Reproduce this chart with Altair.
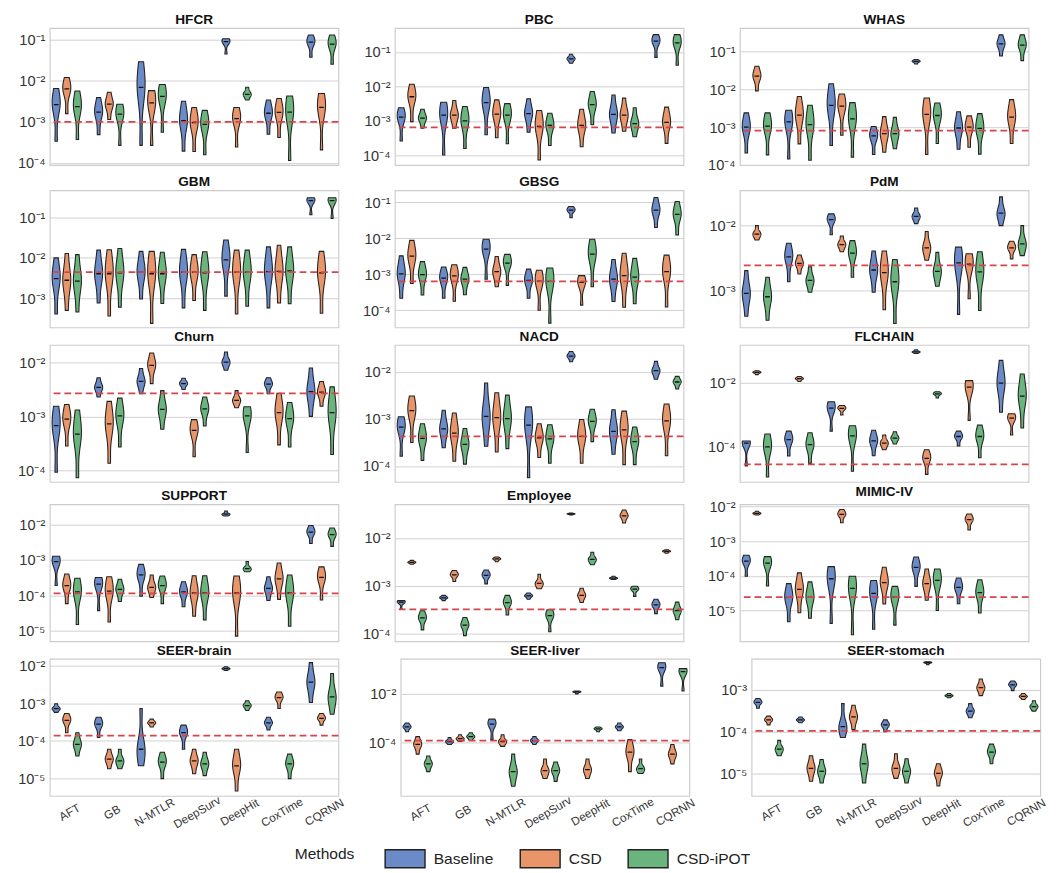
import altair as alt
import pandas as pd

FONT = "Liberation Sans"
METHODS = ["AFT", "GB", "N-MTLR", "DeepSurv", "DeepHit", "CoxTime", "CQRNN"]
VARIANTS = ["Baseline", "CSD", "CSD-iPOT"]
COLORS = ["#6a8bc8", "#e8956a", "#6ab47e"]

# log10 of the metric: (min, median, max) per violin, order = method x (Baseline, CSD, CSD-iPOT)
HFCR = [
    [-3.47, -2.58, -2.19], [-2.80, -2.20, -1.92], [-3.43, -2.63, -2.25],
    [-3.31, -2.76, -2.41], [-2.94, -2.57, -2.28], [-3.57, -2.81, -2.57],
    [-3.57, -2.16, -1.54], [-3.57, -2.54, -2.24], [-3.25, -2.38, -2.09],
    [-3.71, -2.97, -2.50], [-3.72, -3.02, -2.65], [-3.80, -3.06, -2.72],
    [-1.35, -1.05, -0.98], [-3.61, -2.92, -2.65], [-2.47, -2.33, -2.16],
    [-3.30, -2.79, -2.47], [-3.38, -2.77, -2.43], [-3.94, -2.76, -2.37],
    [-1.43, -1.06, -0.89], [-3.68, -2.65, -2.31], [-1.60, -1.11, -0.89],
]
PBC = [
    [-3.58, -2.89, -2.62], [-3.02, -2.30, -1.94], [-3.21, -2.92, -2.66],
    [-3.99, -2.83, -2.46], [-3.21, -2.83, -2.41], [-3.80, -3.00, -2.58],
    [-3.40, -2.47, -2.03], [-3.49, -2.80, -2.39], [-3.66, -2.83, -2.50],
    [-3.33, -2.79, -2.36], [-4.13, -3.16, -2.70], [-3.71, -3.13, -2.78],
    [-1.33, -1.20, -1.07], [-3.75, -3.13, -2.66], [-3.11, -2.53, -2.15],
    [-3.35, -2.81, -2.25], [-3.30, -2.83, -2.34], [-3.46, -3.08, -2.62],
    [-1.16, -0.69, -0.50], [-3.65, -3.04, -2.60], [-1.39, -0.74, -0.50],
]
WHAS = [
    [-3.68, -3.00, -2.62], [-2.04, -1.65, -1.39], [-3.73, -2.97, -2.62],
    [-3.84, -2.86, -2.55], [-3.44, -2.68, -2.19], [-3.87, -2.93, -2.42],
    [-3.48, -2.42, -1.85], [-3.21, -2.44, -2.12], [-3.79, -2.78, -2.35],
    [-3.72, -3.23, -2.98], [-3.66, -3.17, -2.72], [-3.57, -3.17, -2.74],
    [-1.33, -1.26, -1.21], [-3.72, -2.66, -2.23], [-3.43, -2.69, -2.36],
    [-3.58, -3.02, -2.59], [-3.53, -3.00, -2.70], [-3.71, -3.03, -2.64],
    [-1.12, -0.80, -0.56], [-3.43, -2.73, -2.27], [-1.24, -0.83, -0.56],
]
GBM = [
    [-3.38, -2.51, -2.00], [-3.29, -2.55, -1.89], [-3.33, -2.57, -1.92],
    [-3.11, -2.39, -1.81], [-3.43, -2.39, -1.80], [-3.21, -2.37, -1.77],
    [-3.01, -2.35, -1.84], [-3.61, -2.39, -1.84], [-3.12, -2.39, -1.86],
    [-3.23, -2.35, -1.79], [-3.05, -2.35, -1.92], [-3.29, -2.37, -1.85],
    [-2.94, -2.05, -1.56], [-3.38, -2.35, -1.81], [-3.19, -2.35, -1.81],
    [-3.23, -2.34, -1.73], [-3.11, -2.33, -1.69], [-3.13, -2.32, -1.73],
    [-0.94, -0.59, -0.52], [-3.36, -2.37, -1.84], [-1.03, -0.59, -0.52],
]
GBSG = [
    [-3.67, -2.99, -2.49], [-3.26, -2.50, -2.06], [-3.58, -3.01, -2.65],
    [-3.67, -3.11, -2.80], [-3.75, -3.05, -2.74], [-3.57, -3.14, -2.81],
    [-3.14, -2.30, -2.03], [-3.35, -2.93, -2.51], [-3.31, -2.69, -2.45],
    [-3.67, -3.17, -2.86], [-4.00, -3.19, -2.89], [-4.36, -3.20, -2.83],
    [-1.43, -1.22, -1.12], [-3.86, -3.23, -3.04], [-3.35, -2.44, -2.03],
    [-3.76, -3.14, -2.59], [-3.92, -3.04, -2.42], [-3.82, -3.08, -2.56],
    [-1.70, -1.22, -0.87], [-3.91, -2.93, -2.47], [-1.91, -1.34, -0.98],
]
PDM = [
    [-3.39, -3.04, -2.69], [-2.22, -2.13, -2.00], [-3.45, -3.09, -2.79],
    [-2.86, -2.48, -2.27], [-2.74, -2.58, -2.45], [-3.02, -2.84, -2.63],
    [-2.14, -1.91, -1.82], [-2.40, -2.29, -2.16], [-2.79, -2.42, -2.23],
    [-3.02, -2.68, -2.39], [-3.29, -2.72, -2.39], [-3.50, -2.86, -2.52],
    [-1.97, -1.86, -1.73], [-2.53, -2.34, -2.09], [-2.93, -2.70, -2.41],
    [-3.36, -2.57, -2.33], [-3.12, -2.59, -2.43], [-3.30, -2.71, -2.40],
    [-2.00, -1.81, -1.56], [-2.51, -2.34, -2.24], [-2.46, -2.28, -2.00],
]
CHURN = [
    [-4.04, -3.17, -2.81], [-3.55, -3.05, -2.78], [-4.14, -3.33, -2.88],
    [-2.64, -2.46, -2.28], [-3.87, -3.14, -2.72], [-3.57, -2.99, -2.66],
    [-2.58, -2.35, -2.11], [-2.39, -2.05, -1.82], [-3.24, -2.87, -2.52],
    [-2.50, -2.39, -2.29], [-3.75, -3.26, -3.06], [-3.18, -2.86, -2.64],
    [-2.14, -1.99, -1.80], [-2.84, -2.70, -2.52], [-3.67, -2.99, -2.82],
    [-2.58, -2.40, -2.28], [-3.53, -2.93, -2.57], [-3.57, -3.04, -2.74],
    [-3.00, -2.54, -2.10], [-2.81, -2.55, -2.35], [-3.71, -2.93, -2.45],
]
NACD = [
    [-3.79, -3.17, -2.95], [-3.50, -2.82, -2.51], [-3.88, -3.41, -3.10],
    [-3.61, -3.21, -2.81], [-3.90, -3.30, -2.87], [-3.96, -3.54, -3.20],
    [-3.58, -2.94, -2.23], [-3.70, -2.97, -2.44], [-3.63, -2.99, -2.49],
    [-4.25, -3.13, -2.74], [-3.82, -3.40, -3.10], [-3.94, -3.42, -3.12],
    [-1.78, -1.66, -1.56], [-3.94, -3.37, -3.01], [-3.48, -3.05, -2.79],
    [-3.75, -3.26, -2.80], [-3.97, -3.23, -2.83], [-3.97, -3.48, -3.17],
    [-2.15, -1.97, -1.77], [-3.78, -3.04, -2.68], [-2.36, -2.21, -2.09],
]
FLCHAIN = [
    [-4.62, -3.90, -3.83], [-1.73, -1.66, -1.61], [-4.97, -4.02, -3.61],
    [-4.31, -3.79, -3.52], [-1.95, -1.86, -1.79], [-4.54, -3.95, -3.57],
    [-3.52, -2.79, -2.59], [-3.01, -2.80, -2.71], [-4.79, -3.67, -3.35],
    [-4.30, -3.83, -3.49], [-4.11, -3.90, -3.64], [-3.93, -3.74, -3.54],
    [-1.06, -1.01, -0.94], [-4.89, -4.38, -4.11], [-2.47, -2.34, -2.27],
    [-3.99, -3.69, -3.52], [-3.18, -2.13, -1.92], [-4.36, -3.69, -3.33],
    [-2.92, -2.00, -1.28], [-3.64, -3.11, -2.97], [-3.42, -2.41, -1.71],
]
SUPPORT = [
    [-3.72, -3.04, -2.89], [-4.23, -3.72, -3.39], [-4.82, -3.90, -3.51],
    [-4.43, -3.68, -3.49], [-4.75, -3.88, -3.47], [-4.17, -3.83, -3.54],
    [-4.02, -3.42, -3.12], [-4.06, -3.77, -3.42], [-4.23, -3.72, -3.45],
    [-4.32, -3.90, -3.61], [-4.59, -3.93, -3.44], [-4.69, -3.93, -3.44],
    [-1.75, -1.70, -1.61], [-5.15, -3.93, -3.45], [-3.33, -3.24, -3.04],
    [-4.14, -3.80, -3.47], [-4.11, -3.53, -3.08], [-4.87, -3.93, -3.42],
    [-2.53, -2.21, -2.02], [-4.13, -3.49, -3.19], [-2.61, -2.28, -2.09],
]
EMPLOYEE = [
    [-3.49, -3.34, -3.31], [-2.55, -2.51, -2.47], [-3.92, -3.67, -3.52],
    [-3.31, -3.25, -3.20], [-2.91, -2.77, -2.68], [-4.04, -3.82, -3.66],
    [-2.96, -2.78, -2.67], [-2.50, -2.44, -2.40], [-3.61, -3.35, -3.20],
    [-3.28, -3.21, -3.15], [-3.06, -2.95, -2.76], [-3.96, -3.62, -3.50],
    [-1.52, -1.50, -1.48], [-3.35, -3.20, -3.05], [-2.56, -2.45, -2.30],
    [-2.87, -2.84, -2.80], [-1.69, -1.54, -1.42], [-3.22, -3.07, -3.01],
    [-3.58, -3.40, -3.28], [-2.32, -2.28, -2.25], [-3.71, -3.52, -3.34],
]
MIMIC = [
    [-4.01, -3.57, -3.40], [-2.24, -2.19, -2.13], [-4.29, -3.63, -3.44],
    [-5.32, -4.62, -4.22], [-5.06, -4.39, -3.91], [-5.22, -4.61, -4.17],
    [-5.37, -4.08, -3.73], [-2.46, -2.22, -2.08], [-5.70, -4.36, -4.01],
    [-5.54, -4.50, -4.13], [-4.81, -4.19, -3.75], [-5.42, -4.61, -4.30],
    [-4.30, -3.75, -3.45], [-4.70, -4.22, -3.80], [-5.00, -4.13, -3.80],
    [-4.80, -4.33, -4.06], [-2.67, -2.37, -2.21], [-5.07, -4.48, -4.11],
    None, None, None,
]
SEER_BRAIN = [
    [-3.24, -3.14, -3.01], [-3.78, -3.45, -3.27], [-4.40, -4.09, -3.78],
    [-3.91, -3.55, -3.37], [-4.74, -4.48, -4.22], [-4.74, -4.53, -4.22],
    [-4.66, -4.22, -3.14], [-3.63, -3.52, -3.42], [-5.00, -4.56, -4.30],
    [-4.22, -3.78, -3.58], [-4.87, -4.53, -4.22], [-4.92, -4.61, -4.30],
    [-2.13, -2.08, -2.03], [-5.33, -4.66, -4.22], [-3.19, -3.06, -2.93],
    [-3.71, -3.52, -3.37], [-3.14, -2.85, -2.70], [-5.00, -4.61, -4.35],
    [-2.98, -2.44, -1.92], [-3.58, -3.40, -3.27], [-3.29, -2.83, -2.21],
]
SEER_LIVER = [
    [-3.56, -3.36, -3.20], [-4.48, -4.08, -3.76], [-5.20, -4.88, -4.56],
    [-4.08, -3.96, -3.80], [-3.96, -3.84, -3.68], [-3.92, -3.76, -3.60],
    [-3.88, -3.24, -3.04], [-4.16, -3.96, -3.68], [-5.80, -5.20, -4.48],
    [-4.08, -3.92, -3.76], [-5.48, -5.16, -4.68], [-5.60, -5.16, -4.80],
    [-2.00, -1.92, -1.88], [-5.48, -5.12, -4.68], [-3.56, -3.44, -3.36],
    [-3.52, -3.36, -3.20], [-5.20, -4.40, -3.88], [-5.28, -5.08, -4.68],
    [-1.68, -0.92, -0.72], [-4.88, -4.48, -4.08], [-1.88, -1.08, -0.96],
]
SEER_STOMACH = [
    [-3.44, -3.30, -3.21], [-3.84, -3.72, -3.63], [-4.58, -4.42, -4.21],
    [-3.79, -3.72, -3.65], [-5.19, -4.88, -4.58], [-5.23, -4.95, -4.67],
    [-4.14, -3.88, -3.33], [-3.95, -3.65, -3.37], [-5.23, -4.77, -4.30],
    [-4.00, -3.84, -3.72], [-5.12, -4.88, -4.53], [-5.23, -4.95, -4.65],
    [-2.40, -2.35, -2.33], [-5.30, -5.00, -4.77], [-3.19, -3.14, -3.09],
    [-3.67, -3.51, -3.33], [-3.14, -2.95, -2.74], [-4.77, -4.49, -4.30],
    [-3.02, -2.88, -2.79], [-3.23, -3.16, -3.09], [-3.51, -3.40, -3.26],
]

DATASETS = ["HFCR", "PBC", "WHAS", "GBM", "GBSG", "PdM", "Churn", "NACD", "FLCHAIN",
            "SUPPORT", "Employee", "MIMIC-IV", "SEER-brain", "SEER-liver", "SEER-stomach"]
VALUES = [HFCR, PBC, WHAS, GBM, GBSG, PDM, CHURN, NACD, FLCHAIN,
          SUPPORT, EMPLOYEE, MIMIC, SEER_BRAIN, SEER_LIVER, SEER_STOMACH]
# dashed reference level (log10)
REFERENCE = [-3.00, -3.19, -3.09, -2.35, -3.20, -2.61, -2.57, -3.37, -4.57,
             -3.94, -3.49, -4.61, -3.86, -3.92, -3.98]
# y range (log10) of each panel
Y_LOW = [-4.05, -4.28, -4.00, -3.71, -4.48, -3.56, -4.22, -4.34, -5.13,
         -5.30, -4.16, -5.89, -5.46, -6.20, -5.54]
Y_HIGH = [-0.72, -0.31, -0.38, -0.34, -0.67, -1.46, -1.67, -1.42, -0.79,
          -1.42, -1.30, -1.93, -1.82, -0.56, -2.26]
Y_TICKS = [[-1, -2, -3, -4], [-1, -2, -3, -4], [-1, -2, -3, -4], [-1, -2, -3],
           [-1, -2, -3, -4], [-2, -3], [-2, -3, -4], [-2, -3, -4], [-2, -4],
           [-2, -3, -4, -5], [-2, -3, -4], [-2, -3, -4, -5], [-2, -3, -4, -5],
           [-2, -4], [-3, -4, -5]]

sample_rows, median_rows, ref_rows = [], [], []
for name, vals, ref in zip(DATASETS, VALUES, REFERENCE):
    ref_rows.append({"ds": name, "v": ref})
    for i, tri in enumerate(vals):
        if tri is None:
            continue
        m, k = divmod(i, 3)
        vid = f"{name}|{i}"
        lo, med, hi = tri
        # the median carries most of the weight so the violin bulges there
        for v in (lo, med, med, med, hi):
            sample_rows.append({"ds": name, "vid": vid, "m": m, "k": k,
                                "variant": VARIANTS[k], "lo": lo, "hi": hi, "v": v})
        median_rows.append({"ds": name, "m": m, "k": k, "v": med})

samples = pd.DataFrame(sample_rows)
medians = pd.DataFrame(median_rows)
refs = pd.DataFrame(ref_rows)

SUP = {"1": "¹", "2": "²", "3": "³", "4": "⁴", "5": "⁵", "6": "⁶"}
LABEL_EXPR = " : ".join(
    f"datum.value == -{d} ? '10⁻{SUP[d]}'" for d in ["1", "2", "3", "4", "5", "6"]
) + " : ''"
X_LABELS = "[" + ",".join(f"'{m}'" for m in METHODS) + "][datum.value]"

W, H = 297, 141
HALF = 0.095
OFF = 0.25


def panel(idx, bottom):
    name = DATASETS[idx]
    ys = alt.Scale(domain=[Y_LOW[idx], Y_HIGH[idx]], nice=False, zero=False)
    xs = alt.Scale(domain=[-0.4, 6.4], nice=False, zero=False)
    yaxis = alt.Axis(values=Y_TICKS[idx], labelExpr=LABEL_EXPR, grid=True, domain=False,
                     ticks=False, labelPadding=5, labelFontSize=15, minExtent=40,
                     maxExtent=40, title=None, labelColor="#333333", labelFont=FONT,
                     labelOverlap=False)
    if bottom:
        xaxis = alt.Axis(values=list(range(7)), labelExpr=X_LABELS, labelAngle=-30,
                         labelAlign="center", labelBaseline="top", grid=False, domain=False,
                         ticks=False, labelPadding=12, labelFontSize=12, labelFlush=False,
                         labelOverlap=False, labelColor="#333333", labelFont=FONT, title=None)
    else:
        xaxis = None

    violins = (
        alt.Chart(samples)
        .transform_filter(alt.datum.ds == name)
        .transform_calculate(u="(datum.v - datum.lo) / max(datum.hi - datum.lo, 1e-6)")
        .transform_density("u", groupby=["vid", "m", "k", "variant", "lo", "hi"],
                           as_=["u", "density"], bandwidth=0.22, extent=[0, 1], steps=60)
        .transform_joinaggregate(dmax="max(density)", groupby=["vid"])
        .transform_calculate(
            y="datum.lo + datum.u * (datum.hi - datum.lo)",
            xc=f"datum.m + (datum.k - 1) * {OFF}",
        )
        .transform_calculate(
            xa=f"datum.xc - {HALF} * datum.density / datum.dmax",
            xb=f"datum.xc + {HALF} * datum.density / datum.dmax",
        )
        .mark_area(orient="horizontal", stroke="#222222", strokeWidth=1.1,
                   fillOpacity=1, clip=True)
        .encode(
            y=alt.Y("y:Q", scale=ys, axis=yaxis),
            x=alt.X("xa:Q", scale=xs, axis=xaxis),
            x2="xb:Q",
            color=alt.Color(
                "variant:N",
                scale=alt.Scale(domain=VARIANTS, range=COLORS),
                legend=alt.Legend(
                    orient="none", legendX=252, legendY=833, direction="horizontal",
                    title="Methods", titleOrient="left", titleFontSize=16,
                    titleFontWeight="normal", titleFont=FONT, titleColor="#222222",
                    titleAnchor="middle", titleBaseline="middle", titlePadding=30,
                    labelFontSize=16, labelFont=FONT, labelColor="#222222",
                    symbolType="M-1,-0.45L1,-0.45L1,0.45L-1,0.45Z", symbolSize=1680,
                    symbolStrokeColor="#222222", symbolStrokeWidth=1.5, symbolOpacity=1,
                    columnPadding=24, labelOffset=8,
                ),
            ),
            detail="vid:N",
        )
    )

    med = (
        alt.Chart(medians)
        .transform_filter(alt.datum.ds == name)
        .transform_calculate(
            xa=f"datum.m + (datum.k - 1) * {OFF} - 0.055",
            xb=f"datum.m + (datum.k - 1) * {OFF} + 0.055",
        )
        .mark_rule(color="#111111", strokeWidth=1.3, clip=True)
        .encode(y=alt.Y("v:Q", scale=ys), x=alt.X("xa:Q", scale=xs), x2="xb:Q")
    )

    ref = (
        alt.Chart(refs)
        .transform_filter(alt.datum.ds == name)
        .mark_rule(color="#d6454c", strokeDash=[7, 4], strokeWidth=1.8)
        .encode(y=alt.Y("v:Q", scale=ys))
    )

    return alt.layer(violins, med, ref).properties(
        width=W, height=H,
        title=alt.TitleParams(text=name, fontSize=14, fontWeight="bold", font=FONT,
                              color="#111111", offset=1, anchor="middle"),
    )


rows = []
for r in range(5):
    rows.append(alt.hconcat(*[panel(r * 3 + c, r == 4) for c in range(3)], spacing=15))

chart = (
    alt.vconcat(*rows, spacing=1)
    .properties(padding={"left": 2, "top": -8, "right": 2, "bottom": 2})
    .configure_view(stroke="#cccccc", strokeWidth=1.2)
    .configure_axis(gridColor="#d0d0d0", gridWidth=1)
)

chart.save("out.html", embed_options={"renderer": "svg", "actions": False})
